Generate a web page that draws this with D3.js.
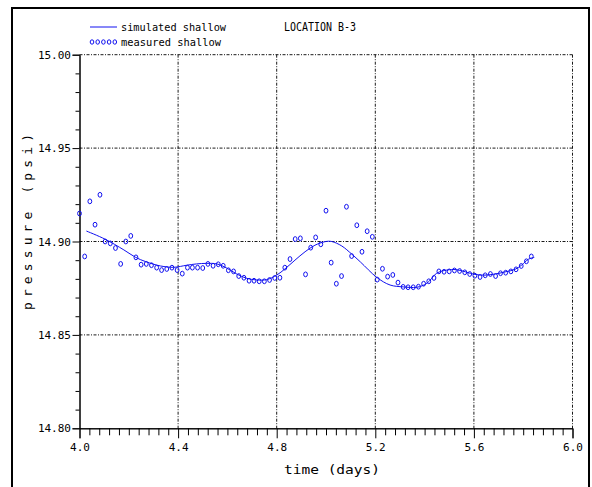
<!DOCTYPE html>
<html>
<head>
<meta charset="utf-8">
<script src="https://cdn.jsdelivr.net/npm/d3@7"></script>
<style>
  body { margin: 0; background: #fff; }
  svg { display: block; }
  text { font-family: "DejaVu Sans Mono", monospace; fill: #000; }
</style>
</head>
<body>
<div id="chart"></div>
<script>
// Axis ticks
const xTicks = [4.0, 4.4, 4.8, 5.2, 5.6, 6.0];
const xMinorTicks = [4.04, 4.08, 4.12, 4.16, 4.2, 4.24, 4.28, 4.32, 4.36, 4.44, 4.48, 4.52, 4.56, 4.6, 4.64, 4.68, 4.72, 4.76,
    4.84, 4.88, 4.92, 4.96, 5.0, 5.04, 5.08, 5.12, 5.16, 5.24, 5.28, 5.32, 5.36, 5.4, 5.44, 5.48, 5.52, 5.56,
    5.64, 5.68, 5.72, 5.76, 5.8, 5.84, 5.88, 5.92, 5.96];
const yTicks = [14.80, 14.85, 14.90, 14.95, 15.00];
const yMinorTicks = [14.81, 14.82, 14.83, 14.84, 14.86, 14.87, 14.88, 14.89, 14.91, 14.92, 14.93, 14.94, 14.96, 14.97, 14.98, 14.99];

// measured shallow (every half hour)
const measuredTime = [4.000, 4.021, 4.042, 4.063, 4.083, 4.104, 4.125, 4.146, 4.167, 4.188, 4.208, 4.229, 4.250, 4.271, 4.292,
    4.313, 4.333, 4.354, 4.375, 4.396, 4.417, 4.438, 4.458, 4.479, 4.500, 4.521, 4.542, 4.563, 4.583, 4.604, 4.625,
    4.646, 4.667, 4.688, 4.708, 4.729, 4.750, 4.771, 4.792, 4.813, 4.833, 4.854, 4.875, 4.896, 4.917, 4.938, 4.958,
    4.979, 5.000, 5.021, 5.042, 5.063, 5.083, 5.104, 5.125, 5.146, 5.167, 5.188, 5.208, 5.229, 5.250, 5.271, 5.292,
    5.313, 5.333, 5.354, 5.375, 5.396, 5.417, 5.438, 5.458, 5.479, 5.500, 5.521, 5.542, 5.563, 5.583, 5.604, 5.625,
    5.646, 5.667, 5.688, 5.708, 5.729, 5.750, 5.771, 5.792, 5.813, 5.833];
const measuredPressure = [14.915, 14.892, 14.9215, 14.909, 14.925, 14.900, 14.899, 14.8965, 14.888, 14.900, 14.903, 14.8915,
    14.8876, 14.888, 14.8873, 14.886, 14.8847, 14.8853, 14.886, 14.8847, 14.8828, 14.886, 14.886, 14.886, 14.8858,
    14.888, 14.887, 14.8878, 14.887, 14.8846, 14.884, 14.8815, 14.8806, 14.879, 14.879, 14.8787, 14.8787, 14.8794,
    14.8805, 14.8806, 14.886, 14.8906, 14.9013, 14.9017, 14.8824, 14.8967, 14.9022, 14.8985, 14.9165, 14.8887,
    14.8774, 14.8815, 14.9186, 14.8922, 14.9087, 14.8945, 14.9055, 14.9025, 14.8796, 14.8854, 14.8812, 14.8821,
    14.878, 14.8757, 14.8755, 14.8755, 14.8758, 14.8774, 14.8787, 14.8805, 14.884, 14.8838, 14.884, 14.8845,
    14.8842, 14.8835, 14.8826, 14.8817, 14.881, 14.8819, 14.8826, 14.8815, 14.883, 14.8833, 14.884, 14.8851,
    14.8869, 14.8894, 14.892];

// simulated shallow
const simTime = [4.028, 4.103, 4.180, 4.228, 4.269, 4.329, 4.383, 4.435, 4.475, 4.516, 4.557, 4.597, 4.638, 4.678, 4.719,
    4.759, 4.800, 4.834, 4.874, 4.915, 4.955, 4.996, 5.023, 5.064, 5.104, 5.140, 5.206, 5.260, 5.314, 5.368, 5.409,
    5.449, 5.490, 5.530, 5.604, 5.645, 5.686, 5.726, 5.767, 5.794, 5.821, 5.845];
const simPressure = [14.9056, 14.9013, 14.8955, 14.8915, 14.8892, 14.8869, 14.8862, 14.8873, 14.888, 14.8883, 14.888,
    14.8858, 14.8826, 14.8803, 14.8794, 14.8796, 14.882, 14.8854, 14.890, 14.8945, 14.898, 14.8999, 14.900, 14.8976,
    14.8933, 14.889, 14.8808, 14.8767, 14.8757, 14.8755, 14.8776, 14.883, 14.8847, 14.8849, 14.8824, 14.882, 14.8826,
    14.8837, 14.8851, 14.8874, 14.8905, 14.8915];

const width = 592, height = 487;
const blue = '#1010f0';

const svg = d3.select('#chart').append('svg')
    .attr('width', width)
    .attr('height', height);

svg.append('rect').attr('width', width).attr('height', height).attr('fill', '#fff');

// outer frame
svg.append('rect')
    .attr('x', 12).attr('y', 8)
    .attr('width', 577).attr('height', 500)
    .attr('fill', 'none')
    .attr('stroke', '#000')
    .attr('stroke-width', 2);

const x = d3.scaleLinear().domain([4, 6]).range([79.5, 572.5]);
const y = d3.scaleLinear().domain([14.8, 15.0]).range([428.3, 54.7]);

// grid (dash-dot)
const grid = svg.append('g')
    .attr('stroke', '#000')
    .attr('stroke-width', 0.9)
    .attr('stroke-dasharray', '3,1.5,1,1.5');

grid.selectAll('.gx')
    .data(xTicks.slice(1))
    .enter()
    .append('line')
    .attr('x1', d => x(d)).attr('x2', d => x(d))
    .attr('y1', y(15.0)).attr('y2', y(14.8));

grid.selectAll('.gy')
    .data(yTicks.slice(1))
    .enter()
    .append('line')
    .attr('x1', x(4)).attr('x2', x(6))
    .attr('y1', d => y(d)).attr('y2', d => y(d));

// bottom axis
const xAxisG = svg.append('g').attr('transform', `translate(0,${y(14.8)})`);
xAxisG.call(d3.axisBottom(x).tickValues(xMinorTicks).tickSize(7).tickSizeOuter(0).tickFormat(''));
xAxisG.append('g').call(d3.axisBottom(x).tickValues(xTicks).tickSize(10).tickPadding(5).tickFormat(d3.format('.1f')));

// left axis
const yAxisG = svg.append('g').attr('transform', `translate(${x(4)},0)`);
yAxisG.call(d3.axisLeft(y).tickValues(yMinorTicks).tickSize(4).tickSizeOuter(0).tickFormat(''));
yAxisG.append('g').call(d3.axisLeft(y).tickValues(yTicks).tickSize(7).tickPadding(1.5).tickFormat(d3.format('.2f')));

svg.selectAll('.domain').attr('stroke', '#000').attr('stroke-width', 1);
svg.selectAll('.tick line').attr('stroke', '#000');
svg.selectAll('.tick text')
    .style('font-family', '"DejaVu Sans Mono", monospace')
    .style('font-size', '11px')
    .attr('fill', '#000');
// inner nested axes keep only tick marks
xAxisG.select('g').select('.domain').remove();
yAxisG.select('g').select('.domain').remove();

// axis titles
svg.append('text')
    .attr('x', 332).attr('y', 474)
    .attr('text-anchor', 'middle')
    .attr('textLength', 96)
    .attr('lengthAdjust', 'spacingAndGlyphs')
    .style('font-size', '13px')
    .text('time (days)');

svg.append('text')
    .attr('transform', 'translate(32,222) rotate(-90)')
    .attr('text-anchor', 'middle')
    .attr('textLength', 176)
    .attr('lengthAdjust', 'spacing')
    .style('font-size', '13px')
    .text('pressure (psi)');

// title
svg.append('text')
    .attr('x', 284).attr('y', 31)
    .attr('textLength', 72)
    .attr('lengthAdjust', 'spacingAndGlyphs')
    .style('font-size', '12px')
    .text('LOCATION B-3');

// simulated line
const line = d3.line()
    .x((d, i) => x(simTime[i]))
    .y(d => y(d))
    .curve(d3.curveCatmullRom);

svg.append('path')
    .datum(simPressure)
    .attr('d', line)
    .attr('fill', 'none')
    .attr('stroke', blue)
    .attr('stroke-width', 1);

// measured points
svg.append('g')
    .selectAll('ellipse')
    .data(measuredPressure)
    .enter()
    .append('ellipse')
    .attr('cx', (d, i) => x(measuredTime[i]))
    .attr('cy', d => y(d))
    .attr('rx', 1.9)
    .attr('ry', 2.4)
    .attr('fill', 'none')
    .attr('stroke', blue)
    .attr('stroke-width', 1);

// legend
const legend = svg.append('g');
legend.append('line')
    .attr('x1', 90).attr('x2', 117)
    .attr('y1', 27).attr('y2', 27)
    .attr('stroke', blue)
    .attr('stroke-width', 1);
legend.append('text')
    .attr('x', 121).attr('y', 31)
    .attr('textLength', 105)
    .attr('lengthAdjust', 'spacingAndGlyphs')
    .style('font-size', '11px')
    .text('simulated shallow');

legend.selectAll('ellipse')
    .data([0, 1, 2, 3, 4])
    .enter()
    .append('ellipse')
    .attr('cx', d => 92 + d * 5.7)
    .attr('cy', 42)
    .attr('rx', 1.8)
    .attr('ry', 2.2)
    .attr('fill', 'none')
    .attr('stroke', blue)
    .attr('stroke-width', 1);
legend.append('text')
    .attr('x', 121).attr('y', 46)
    .attr('textLength', 100)
    .attr('lengthAdjust', 'spacingAndGlyphs')
    .style('font-size', '11px')
    .text('measured shallow');
</script>
</body>
</html>
